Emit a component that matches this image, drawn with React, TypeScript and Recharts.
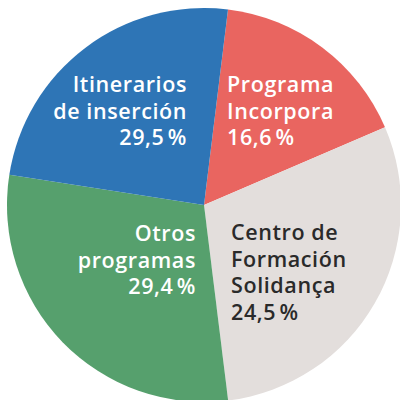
import React from "react";
import { PieChart, Pie, Cell } from "recharts";

// slice shares as drawn (clockwise from top)
const categories = ["Programa Incorpora", "Centro de Formación Solidança", "Otros programas", "Itinerarios de inserción"];
const shares = [16.6, 29.5, 29.4, 24.5];
const labelLines = [
  ["Programa", "Incorpora"],
  ["Centro de", "Formación", "Solidança"],
  ["Otros", "programas"],
  ["Itinerarios", "de inserción"],
];
const labelPercents = ["16,6\u202F%", "24,5\u202F%", "29,4\u202F%", "29,5\u202F%"];

const colors = ["#E96560", "#E3DEDC", "#56A06D", "#2E75B6"];
const textColors = ["#ffffff", "#2a2a2a", "#ffffff", "#ffffff"];
// label block anchors relative to pie centre
const labelLayout = [
  { dx: 23, dy: -113, anchor: "start" },
  { dx: 27, dy: 35, anchor: "start" },
  { dx: -8, dy: 36, anchor: "end" },
  { dx: -17, dy: -113, anchor: "end" },
];

const data = categories.map((name, i) => ({ name, value: shares[i] }));

const FONT = "'Open Sans', sans-serif";

const renderLabel = (props: any) => {
  const { cx, cy, index } = props;
  const lay = labelLayout[index];
  const lines = [...labelLines[index], labelPercents[index]];
  return (
    <text
      x={cx + lay.dx}
      y={cy + lay.dy}
      textAnchor={lay.anchor}
      fill={textColors[index]}
      fontFamily={FONT}
      fontWeight={600}
      fontSize={21.5}
      letterSpacing={0.6}
    >
      {lines.map((l, i) => (
        <tspan key={i} x={cx + lay.dx} dy={i === 0 ? 0 : 26.5}>
          {l}
        </tspan>
      ))}
    </text>
  );
};

export default function App() {
  return (
    <div style={{ position: "absolute", left: 0, top: 0, width: 400, height: 400, background: "#fff" }}>
      <PieChart width={400} height={400} margin={{ top: 0, right: 0, bottom: 0, left: 0 }}>
        <Pie
          data={data}
          dataKey="value"
          cx={204}
          cy={205}
          innerRadius={0}
          outerRadius={197}
          startAngle={83}
          endAngle={-277}
          stroke="none"
          labelLine={false}
          label={renderLabel}
          isAnimationActive={false}
        >
          {data.map((d, i) => (
            <Cell key={d.name} fill={colors[i]} />
          ))}
        </Pie>
      </PieChart>
    </div>
  );
}
